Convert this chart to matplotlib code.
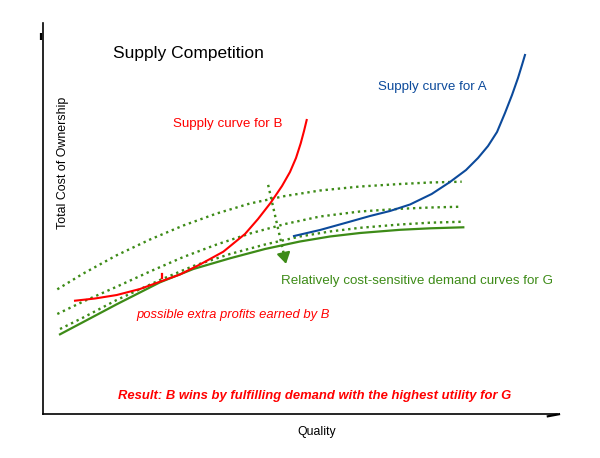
import matplotlib
matplotlib.use("Agg")
import matplotlib.pyplot as plt

plt.rcParams['font.family'] = ['Liberation Sans', 'DejaVu Sans']

# ---- data (quality 0-100, total cost of ownership 0-100) ----
# solid demand curve for G
demand_x = [3.31, 7.84, 14.34, 22.76, 29.24, 36.38, 43.19, 50.0, 55.84, 61.67, 69.46, 75.29, 81.77]
demand_y = [20.38, 23.53, 28.06, 33.68, 37.08, 39.82, 42.20, 44.12, 45.40, 46.29, 47.11, 47.49, 47.75]

# dotted demand curves (lowest, middle, top)
dot1_x = [3.31, 7.84, 14.34, 22.76, 29.24, 36.38, 43.19, 50.0, 55.84, 61.67, 69.46, 75.29, 81.77]
dot1_y = [21.74, 24.68, 29.16, 34.27, 37.85, 40.92, 43.35, 45.40, 46.68, 47.62, 48.47, 48.93, 49.18]

dot2_x = [2.78, 7.84, 14.34, 20.82, 27.30, 33.79, 40.27, 47.08, 53.89, 61.67, 69.46, 75.29, 81.46]
dot2_y = [25.58, 28.77, 32.56, 36.45, 40.15, 43.35, 46.16, 48.59, 50.51, 51.79, 52.48, 52.81, 53.02]

dot3_x = [2.78, 7.84, 14.34, 20.82, 27.30, 33.79, 40.27, 47.08, 53.89, 61.67, 69.46, 75.29, 81.46]
dot3_y = [31.89, 35.93, 40.60, 44.63, 48.21, 51.28, 53.84, 55.75, 57.16, 58.18, 58.82, 59.21, 59.41]

# supply curve for B
supB_x = [6.23, 10.12, 14.34, 18.87, 22.76, 26.65, 30.54, 35.08, 39.30, 41.83, 44.30,
          46.50, 48.05, 49.22, 50.14, 50.78, 51.30]
supB_y = [28.98, 29.54, 30.43, 31.97, 33.84, 35.68, 38.24, 41.51, 46.04, 49.87, 54.04,
          58.31, 61.89, 65.47, 69.23, 72.38, 75.19]

# supply curve for A
supA_x = [48.83, 53.89, 59.14, 63.62, 67.51, 71.40, 75.62, 79.18, 82.30, 84.63, 86.58,
          88.33, 89.88, 91.25, 92.41, 93.19, 93.77]
supA_y = [45.52, 47.06, 48.98, 50.64, 51.92, 53.58, 56.27, 59.34, 62.40, 65.47, 68.54,
          72.12, 76.98, 81.59, 85.93, 89.26, 91.82]

# dotted arrow (shift of demand)
arrow_x = [43.8, 47.28]
arrow_y = [58.6, 38.4]

GREEN = '#3d8b17'
RED = '#ff0000'
BLUE = '#0c4a9b'

fig = plt.figure(figsize=(6.0, 4.58), dpi=100)
ax = fig.add_axes([43/600, 1 - 414/458, (557-43)/600, (414-23)/458])
ax.set_xlim(0, 100)
ax.set_ylim(0, 100)
for s in ['top', 'right']:
    ax.spines[s].set_visible(False)
for s in ['left', 'bottom']:
    ax.spines[s].set_linewidth(1.2)
    ax.spines[s].set_color('black')
ax.set_xticks([])
ax.set_yticks([])

# small stubs at the axis ends
ax.plot([-0.3, -0.3], [95.6, 97.4], color='black', lw=1.6, clip_on=False,
        solid_capstyle='butt')
ax.plot([98.0, 100.6], [-0.64, 0.0], color='black', lw=1.6, clip_on=False,
        solid_capstyle='butt')

DOT = (0, (1, 1.6))
ax.plot(dot3_x, dot3_y, color=GREEN, lw=1.7, linestyle=DOT)
ax.plot(dot2_x, dot2_y, color=GREEN, lw=1.7, linestyle=DOT)
ax.plot(dot1_x, dot1_y, color=GREEN, lw=1.7, linestyle=DOT)
ax.plot(demand_x, demand_y, color=GREEN, lw=1.6, solid_joinstyle='round')
ax.plot(supA_x, supA_y, color=BLUE, lw=1.5, solid_joinstyle='round')
ax.plot(supB_x, supB_y, color=RED, lw=1.5, solid_joinstyle='round')
# tiny red tick on curve B
ax.plot([23.15, 23.15], [34.8, 35.8], color=RED, lw=1.6)

# dotted arrow shaft + head
dx = arrow_x[1] - arrow_x[0]
dy = arrow_y[1] - arrow_y[0]
ax.plot([arrow_x[0], arrow_x[1] - 0.12 * dx], [arrow_y[0], arrow_y[1] - 0.12 * dy],
        color=GREEN, lw=1.7, linestyle=DOT)
ax.annotate('', xy=(arrow_x[1], arrow_y[1]),
            xytext=(arrow_x[1] - 0.15 * dx, arrow_y[1] - 0.15 * dy),
            arrowprops=dict(arrowstyle='-|>,head_length=0.65,head_width=0.4',
                            color=GREEN, lw=1.5, shrinkA=0, shrinkB=0))

ax.text(13.6, 92.3, 'Supply Competition', fontsize=12.5, color='black',
        ha='left', va='center')
ax.text(65.2, 83.6, 'Supply curve for A', fontsize=9.6, color=BLUE,
        ha='left', va='center')
ax.text(25.3, 74.2, 'Supply curve for B', fontsize=9.6, color=RED,
        ha='left', va='center')
ax.text(3.9, 64.2, 'Total Cost of Ownership', fontsize=8.9, color='black',
        rotation=90, ha='center', va='center')
ax.text(46.3, 34.0, 'Relatively cost-sensitive demand curves for G', fontsize=9.6,
        color=GREEN, ha='left', va='center')
ax.text(18.1, 25.3, 'possible extra profits earned by B', fontsize=9.4,
        color=RED, style='italic', ha='left', va='center')
ax.text(14.6, 4.6, 'Result: B wins by fulfilling demand with the highest utility for G',
        fontsize=9.4, color=RED, style='italic', weight='bold', ha='left', va='center')
ax.text(53.3, -4.6, 'Quality', fontsize=8.8, color='black', ha='center',
        va='center', clip_on=False)

fig.savefig('out.png', dpi=100)
